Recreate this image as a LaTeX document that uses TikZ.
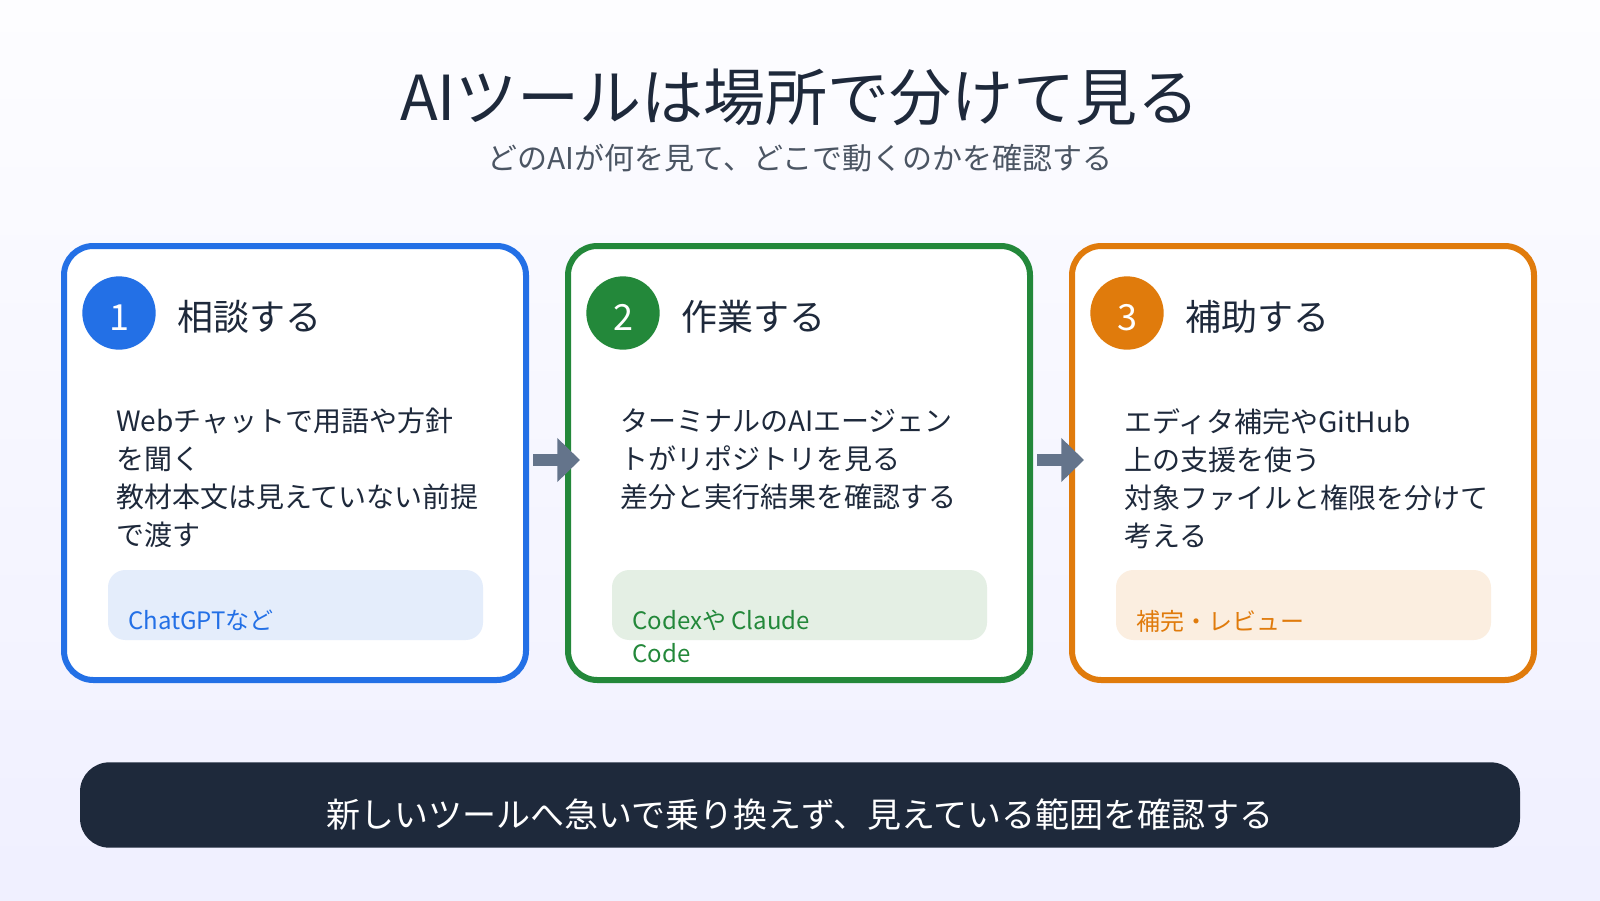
\documentclass[tikz,border=0pt]{standalone}
\usepackage{fontspec}
\setmainfont{Noto Sans CJK JP}
\usetikzlibrary{arrows.meta}
\definecolor{cblue}{HTML}{2370E6}
\definecolor{cgreen}{HTML}{23883A}
\definecolor{corange}{HTML}{E07B0C}
\definecolor{tblue}{HTML}{E4EDFB}
\definecolor{tgreen}{HTML}{E4EFE4}
\definecolor{torange}{HTML}{FBEEE0}
\definecolor{ink}{HTML}{1E293B}
\definecolor{sub}{HTML}{4B5563}
\definecolor{arr}{HTML}{64748B}
\begin{document}
\begin{tikzpicture}[x=0.75pt,y=-0.75pt,
  card/.style={draw=#1,line width=4.5pt,rounded corners=22pt,fill=white},
  num/.style={circle,fill=#1,minimum size=55pt,inner sep=0pt},
  digit/.style={anchor=base,inner sep=0pt,text=white,font=\fontsize{27}{30}\selectfont},
  head/.style={anchor=base west,inner sep=0pt,text=ink,font=\fontsize{27}{30}\selectfont},
  body/.style={anchor=north west,inner sep=0pt,align=left,text=ink,font=\fontsize{21}{28.5}\selectfont},
  tag/.style={rounded corners=13pt,fill=#1},
  tagtxt/.style={anchor=north west,inner sep=0pt,align=left,text=#1,font=\fontsize{18}{25}\selectfont},
  flow/.style={-{Triangle[length=17pt,width=32pt]},line width=9pt,draw=arr}]
\useasboundingbox (0,0) rectangle (1600,900);
\shade[top color=white!60!blue!2,bottom color=blue!6!white] (0,0) rectangle (1600,900);
\node[inner sep=0pt,text=ink,font=\fontsize{46.5}{52}\selectfont] (title) at (800,97) {AIツールは場所で分けて見る};
\node[inner sep=0pt,text=sub,font=\fontsize{22.5}{24}\selectfont] (subt) at (800,158) {どのAIが何を見て、どこで動くのかを確認する};
% cards
\draw[card=cblue] (64,246) rectangle (526,680);
\draw[card=cgreen] (568,246) rectangle (1030,680);
\draw[card=corange] (1072,246) rectangle (1534,680);
% card 1
\node[num=cblue] (n1) at (119,313) {};
\node[digit] (d1) at (119,330) {1};
\node[head] (h1) at (177,330) {相談する};
\node[body] (b1) at (116,408) {Webチャットで用語や方針\\を聞く\\教材本文は見えていない前提\\で渡す};
\fill[tag=tblue] (108,570) rectangle (483,640);
\node[tagtxt=cblue] (t1) at (128,610) {ChatGPTなど};
% card 2
\node[num=cgreen] (n2) at (623,313) {};
\node[digit] (d2) at (623,330) {2};
\node[head] (h2) at (681,330) {作業する};
\node[body] (b2) at (620,408) {ターミナルのAIエージェン\\トがリポジトリを見る\\差分と実行結果を確認する};
\fill[tag=tgreen] (612,570) rectangle (987,640);
\node[tagtxt=cgreen] (t2) at (632,610) {Codexや Claude\\Code};
% card 3
\node[num=corange] (n3) at (1127,313) {};
\node[digit] (d3) at (1127,330) {3};
\node[head] (h3) at (1185,330) {補助する};
\node[body] (b3) at (1124,408) {エディタ補完やGitHub\\上の支援を使う\\対象ファイルと権限を分けて\\考える};
\fill[tag=torange] (1116,570) rectangle (1491,640);
\node[tagtxt=corange] (t3) at (1136,610) {補完・レビュー};
% arrows
\coordinate (a1s) at (533,460); \coordinate (a1e) at (580,460);
\coordinate (a2s) at (1037,460); \coordinate (a2e) at (1084,460);
\draw[flow] (a1s) -- (a1e);
\draw[flow] (a2s) -- (a2e);
% bottom bar
\node[fill=ink,rounded corners=22pt,minimum width=1080pt,minimum height=64pt,inner sep=0pt] (bar) at (800,805) {};
\node[inner sep=0pt,text=white,font=\fontsize{25.5}{28}\selectfont] (bart) at (800,815) {新しいツールへ急いで乗り換えず、見えている範囲を確認する};
\end{tikzpicture}
\end{document}
